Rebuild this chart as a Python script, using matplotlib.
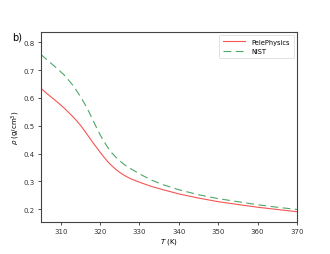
import matplotlib
matplotlib.use("Agg")
import matplotlib.pyplot as plt

T = [305, 307, 309, 311, 313, 314, 315, 316, 317, 318, 319, 320, 321, 322, 323, 324, 325, 326, 327,
     328, 330, 333, 336, 340, 345, 350, 355, 360, 365, 370]
rho_pele = [0.634, 0.610, 0.587, 0.562, 0.534, 0.519, 0.502, 0.483, 0.463, 0.443, 0.424, 0.405, 0.387,
            0.370, 0.356, 0.343, 0.332, 0.323, 0.315, 0.308, 0.297, 0.282, 0.270, 0.255, 0.240, 0.227,
            0.217, 0.207, 0.199, 0.191]
rho_nist = [0.756, 0.731, 0.707, 0.681, 0.647, 0.627, 0.605, 0.581, 0.555, 0.526, 0.496, 0.468, 0.443,
            0.421, 0.402, 0.387, 0.374, 0.362, 0.352, 0.344, 0.327, 0.305, 0.288, 0.270, 0.252, 0.238,
            0.227, 0.216, 0.207, 0.199]
xticks = [310, 320, 330, 340, 350, 360, 370]
yticks = [0.2, 0.3, 0.4, 0.5, 0.6, 0.7, 0.8]

plt.rcParams['font.family'] = ['DejaVu Sans']
fig = plt.figure(figsize=(3.3, 2.55), dpi=100)
ax = fig.add_axes([41/330, 1-223/255, 256/330, 190/255])
ax.plot(T, rho_pele, color='#f55555', lw=0.8, label='PelePhysics')
ax.plot(T, rho_nist, color='#4ea866', lw=0.8, ls=(0, (7, 4)), label='NIST')
ax.set_xlim(305, 370)
ax.set_ylim(0.154, 0.837)
ax.set_xticks(xticks)
ax.set_yticks(yticks)
ax.tick_params(labelsize=5, length=2.5, width=0.6, pad=2, colors='#333333')
for s in ax.spines.values():
    s.set_linewidth(0.8)
    s.set_color('#444444')
ax.set_xlabel('$T$ (K)', fontsize=5, labelpad=1.5)
ax.set_ylabel(r'$\rho$ (g/cm$^3$)', fontsize=5, labelpad=1)
leg = ax.legend(loc='upper right', fontsize=4.8, frameon=True, handlelength=3.3, borderpad=0.6,
                labelspacing=0.5, handletextpad=1.0, borderaxespad=0.4)
leg.get_frame().set_linewidth(0.5)
fig.text(12/330, 1-41/255, 'b)', fontsize=7)
fig.savefig('out.png', dpi=100)
